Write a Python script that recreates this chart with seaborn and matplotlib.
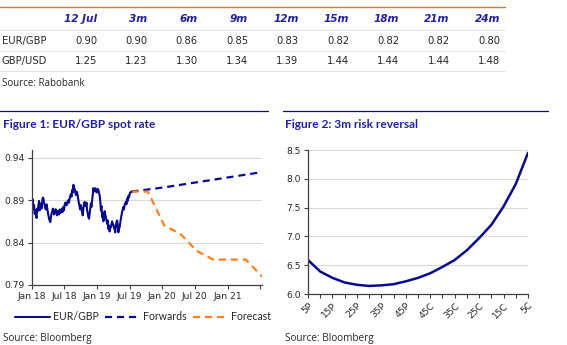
import numpy as np
import pandas as pd
import matplotlib
matplotlib.use("Agg")
import matplotlib.pyplot as plt
import seaborn as sns
from matplotlib.lines import Line2D

# ---------------- data ----------------
table_cols = ["12 Jul", "3m", "6m", "9m", "12m", "15m", "18m", "21m", "24m"]
eurgbp_fc = [0.90, 0.90, 0.86, 0.85, 0.83, 0.82, 0.82, 0.82, 0.80]
gbpusd_fc = [1.25, 1.23, 1.30, 1.34, 1.39, 1.44, 1.44, 1.44, 1.48]

spot_start, spot_end = "2018-01-02", "2019-07-12"
spot_values = [
    0.887, 0.891, 0.880, 0.884, 0.874, 0.878, 0.872, 0.869, 0.880, 0.877,
    0.884, 0.889, 0.878, 0.883, 0.886, 0.880, 0.888, 0.893, 0.892, 0.887,
    0.884, 0.880, 0.879, 0.885, 0.881, 0.876, 0.872, 0.868, 0.866, 0.864,
    0.870, 0.874, 0.876, 0.880, 0.878, 0.873, 0.874, 0.879, 0.879, 0.875,
    0.872, 0.877, 0.876, 0.873, 0.879, 0.876, 0.875, 0.879, 0.880, 0.876,
    0.882, 0.878, 0.884, 0.887, 0.887, 0.884, 0.885, 0.889, 0.890, 0.887,
    0.892, 0.895, 0.897, 0.894, 0.902, 0.899, 0.908, 0.905, 0.903, 0.899,
    0.896, 0.900, 0.899, 0.895, 0.890, 0.886, 0.882, 0.879, 0.884, 0.880,
    0.876, 0.872, 0.880, 0.885, 0.888, 0.884, 0.883, 0.887, 0.878, 0.874,
    0.870, 0.868, 0.874, 0.879, 0.886, 0.882, 0.890, 0.896, 0.904, 0.900,
    0.901, 0.904, 0.903, 0.899, 0.900, 0.903, 0.902, 0.898, 0.896, 0.889,
    0.878, 0.883, 0.870, 0.874, 0.865, 0.869, 0.877, 0.873, 0.870, 0.866,
    0.862, 0.866, 0.856, 0.860, 0.853, 0.857, 0.858, 0.862, 0.865, 0.861,
    0.861, 0.857, 0.856, 0.852, 0.860, 0.864, 0.866, 0.861, 0.852, 0.856,
    0.858, 0.863, 0.868, 0.872, 0.876, 0.879, 0.882, 0.879, 0.884, 0.886,
    0.888, 0.885, 0.892, 0.889, 0.895, 0.893, 0.897, 0.899, 0.899, 0.900,
]
fc_dates = ["2019-07-12", "2019-10-12", "2020-01-12", "2020-04-12", "2020-07-12",
            "2020-10-12", "2021-01-12", "2021-04-12", "2021-07-12"]
forwards = [0.900, 0.9025, 0.905, 0.908, 0.911, 0.914, 0.917, 0.920, 0.923]
forecast = eurgbp_fc

rr_labels = ["5P", "10P", "15P", "20P", "25P", "30P", "35P", "40P", "45P", "ATM",
             "45C", "40C", "35C", "30C", "25C", "20C", "15C", "10C", "5C"]
rr_tick_text = ["5P", "", "15P", "", "25P", "", "35P", "", "45P", "",
                "45C", "", "35C", "", "25C", "", "15C", "", "5C"]
rr_values = [6.59, 6.39, 6.28, 6.20, 6.16, 6.14, 6.15, 6.17, 6.22, 6.28,
             6.36, 6.47, 6.59, 6.76, 6.97, 7.20, 7.52, 7.91, 8.45]

x_tick_dates = ["2018-01-01", "2018-07-01", "2019-01-01", "2019-07-01",
                "2020-01-01", "2020-07-01", "2021-01-01", "2021-07-01"]
x_tick_text = ["Jan 18", "Jul 18", "Jan 19", "Jul 19", "Jan 20", "Jul 20", "Jan 21", ""]

# ---------------- style ----------------
sns.set_style("white")
plt.rcParams["font.family"] = ["DejaVu Sans"]
NAVY = "#0a0a8c"
ORANGE = "#ff7f1e"
TITLE_BLUE = "#1f1fa0"
TEXT = "#262626"
GRID = "#d9d9d9"
W, H = 567, 345

fig = plt.figure(figsize=(W / 100, H / 100), dpi=100)

def fx(px):
    return px / W

def fy(py):
    return 1 - py / H

def hline(y, x0, x1, color, lw):
    fig.add_artist(Line2D([fx(x0), fx(x1)], [fy(y), fy(y)], color=color, lw=lw,
                          transform=fig.transFigure))

# ---------------- table ----------------
hline(7, 0, 505, "#e8731c", 1.0)
for y in (30, 51, 71):
    hline(y, 0, 505, "#e6e6e6", 0.8)
col_right = [97 + 50.4 * i for i in range(len(table_cols))]
for xr, c in zip(col_right, table_cols):
    fig.text(fx(xr), fy(19), c, ha="right", va="center", fontsize=7.6,
             style="italic", weight="bold", color=TITLE_BLUE, family="DejaVu Sans")
fig.text(fx(2), fy(41), "EUR/GBP", ha="left", va="center", fontsize=7.2, color=TEXT)
fig.text(fx(2), fy(61), "GBP/USD", ha="left", va="center", fontsize=7.2, color=TEXT)
for xr, v in zip(col_right, eurgbp_fc):
    fig.text(fx(xr), fy(41), f"{v:.2f}", ha="right", va="center", fontsize=7.2, color=TEXT)
for xr, v in zip(col_right, gbpusd_fc):
    fig.text(fx(xr), fy(61), f"{v:.2f}", ha="right", va="center", fontsize=7.2, color=TEXT)
fig.text(fx(2), fy(84), "Source: Rabobank", ha="left", va="center", fontsize=7, color=TEXT,
         family="Open Sans")

# ---------------- titles ----------------
hline(111, 0, 268, NAVY, 0.9)
hline(111, 283, 548, NAVY, 0.9)
fig.text(fx(3), fy(124), "Figure 1: EUR/GBP spot rate", ha="left", va="center",
         fontsize=8.6, weight="bold", color=TITLE_BLUE, family="Lato")
fig.text(fx(285), fy(124), "Figure 2: 3m risk reversal", ha="left", va="center",
         fontsize=8.6, weight="bold", color=TITLE_BLUE, family="Lato")
fig.text(fx(3), fy(339), "Source: Bloomberg", ha="left", va="center", fontsize=7.2,
         color=TEXT, family="Open Sans")
fig.text(fx(285), fy(339), "Source: Bloomberg", ha="left", va="center", fontsize=7.2,
         color=TEXT, family="Open Sans")

# ---------------- chart 1 ----------------
ax1 = fig.add_axes([fx(32), fy(285), fx(262) - fx(32), fy(150) - fy(285)])
spot_df = pd.DataFrame({"date": pd.date_range(spot_start, spot_end, periods=len(spot_values)),
                        "value": spot_values})
fc_df = pd.DataFrame({"date": pd.to_datetime(fc_dates), "fwd": forwards, "fc": forecast})

sns.lineplot(data=fc_df, x="date", y="fwd", ax=ax1, color=NAVY, lw=1.6,
             linestyle=(0, (3.2, 2.2)), label="Forwards")
sns.lineplot(data=fc_df, x="date", y="fc", ax=ax1, color=ORANGE, lw=1.6,
             linestyle=(0, (3.2, 2.2)), label="Forecast")
sns.lineplot(data=spot_df, x="date", y="value", ax=ax1, color=NAVY, lw=1.5,
             label="EUR/GBP")

ax1.set_xlim(pd.Timestamp("2018-01-01"), pd.Timestamp("2021-07-12"))
ax1.set_ylim(0.79, 0.949)
ax1.set_yticks([0.79, 0.84, 0.89, 0.94])
ax1.set_yticklabels(["0.79", "0.84", "0.89", "0.94"])
ax1.set_xticks(pd.to_datetime(x_tick_dates))
ax1.set_xticklabels(x_tick_text)
ax1.set_xlabel("")
ax1.set_ylabel("")
ax1.grid(axis="y", color=GRID, lw=0.8)
ax1.set_axisbelow(True)
for s in ("top", "right"):
    ax1.spines[s].set_visible(False)
for s in ("left", "bottom"):
    ax1.spines[s].set_color("#404040")
    ax1.spines[s].set_linewidth(0.9)
ax1.tick_params(axis="both", which="major", length=3, width=0.8, color="#404040",
                labelsize=6.6, labelcolor=TEXT, pad=2, direction="out",
                bottom=True, left=True)

handles, labels = ax1.get_legend_handles_labels()
order = [labels.index("EUR/GBP"), labels.index("Forwards"), labels.index("Forecast")]
ax1.legend([handles[i] for i in order], [labels[i] for i in order], ncol=3,
           frameon=False, loc="center left", bbox_to_anchor=(fx(5), fy(317)),
           bbox_transform=fig.transFigure, handlelength=3.4,
           columnspacing=0.6, handletextpad=0.2, labelcolor=TEXT,
           prop={"family": "Lato", "size": 7.6})

# ---------------- chart 2 ----------------
ax2 = fig.add_axes([fx(308), fy(294), fx(528) - fx(308), fy(150) - fy(294)])
rr_df = pd.DataFrame({"delta": rr_labels, "vol": rr_values})
sns.lineplot(data=rr_df, x="delta", y="vol", ax=ax2, color=NAVY, lw=1.8, sort=False)
ax2.set_xlim(0, len(rr_labels) - 1)
ax2.set_ylim(6.0, 8.5)
ax2.set_yticks([6.0, 6.5, 7.0, 7.5, 8.0, 8.5])
ax2.set_yticklabels(["6.0", "6.5", "7.0", "7.5", "8.0", "8.5"])
ax2.set_xticks(range(len(rr_labels)))
ax2.set_xticklabels(rr_tick_text, rotation=45, ha="right", rotation_mode="anchor")
ax2.set_xlabel("")
ax2.set_ylabel("")
ax2.grid(axis="y", color=GRID, lw=0.8)
ax2.set_axisbelow(True)
for s in ("top", "right"):
    ax2.spines[s].set_visible(False)
for s in ("left", "bottom"):
    ax2.spines[s].set_color("#404040")
    ax2.spines[s].set_linewidth(0.9)
ax2.tick_params(axis="both", which="major", length=3, width=0.8, color="#404040",
                labelsize=6.6, labelcolor=TEXT, pad=2, direction="out",
                bottom=True, left=True)

fig.savefig("out.png", dpi=100)
